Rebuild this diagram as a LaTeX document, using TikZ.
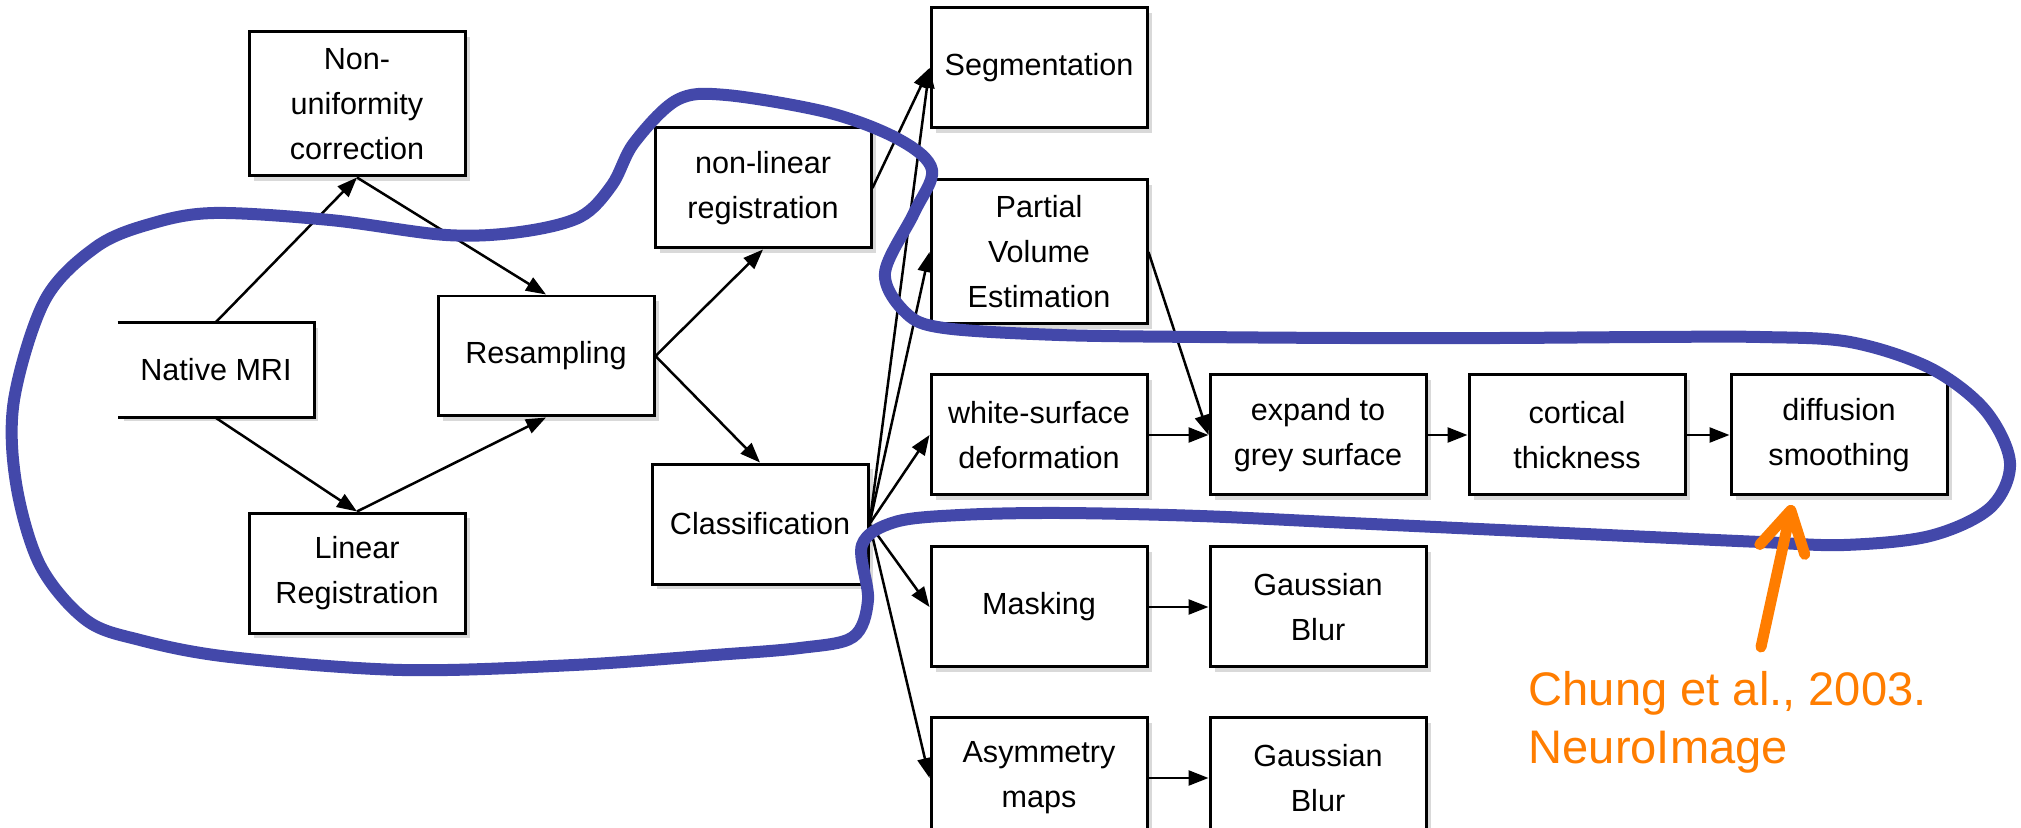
\documentclass[tikz,border=0pt]{standalone}
\usepackage{fontspec}
\setmainfont{Liberation Sans}
\usetikzlibrary{arrows.meta,positioning,shadows}
\definecolor{loopblue}{RGB}{67,72,170}
\definecolor{citeorange}{RGB}{255,125,0}

\begin{document}
\begin{tikzpicture}[x=0.1mm, y=-0.1mm,
	box/.style={draw, fill=white, line width=0.3mm, align=center, inner sep=0pt,
		minimum width=21.6mm, minimum height=12mm,
		font=\fontsize{8.7}{12.8}\selectfont,
		drop shadow={opacity=0.3, shadow xshift=0.5mm, shadow yshift=-0.5mm}},
	tall/.style={box, minimum height=14.4mm},
	arr/.style={-{Triangle[length=2mm, width=1.5mm]}, line width=0.25mm}]
	\useasboundingbox (0,0) rectangle (2021,828);
	% left part of the pipeline
	\node[box, draw=none, minimum width=19.4mm, minimum height=9.3mm] (native) at (216,370) {Native MRI};
	\draw[line width=0.3mm] (native.north west) -- (native.north east) -- (native.south east) -- (native.south west);
	\node[tall] (nonunif) at (357,104) {Non-\\uniformity\\correction};
	\node[box] (linreg) at (357,573) {Linear\\Registration};
	\node[box] (resamp) at (546,356) {Resampling};
	\node[box] (nonlin) at (763,188) {non-linear\\registration};
	\node[box] (classif) at (760,524) {Classification};
	% right column
	\node[box] (segm) at (1039,68) {Segmentation};
	\node[tall, below=4.9mm of segm] (pve) {Partial\\Volume\\Estimation};
	\node[box, below=4.8mm of pve] (white) {white-surface\\deformation};
	\node[box, right=6mm of white] (expand) {expand to\\grey surface};
	\node[box, right=4mm of expand] (cortical) {cortical\\thickness};
	\node[box, right=4.3mm of cortical] (diffusion) {diffusion\\smoothing};
	\node[box, below=4.9mm of white] (masking) {Masking};
	\node[box, right=6mm of masking] (gaussa) {Gaussian\\Blur};
	\node[box, below=4.8mm of masking] (asym) {Asymmetry\\maps};
	\node[box, right=6mm of asym] (gaussb) {Gaussian\\Blur};
	% connectors
	\draw[arr] (native.north) -- (nonunif.south);
	\draw[arr] (nonunif.south) -- (resamp.north);
	\draw[arr] (native.south) -- (linreg.north);
	\draw[arr] (linreg.north) -- (resamp.south);
	\draw[arr] (resamp.east) -- (nonlin.south);
	\draw[arr] (resamp.east) -- (classif.north);
	\draw[arr] (nonlin.east) -- (segm.west);
	\foreach \target in {segm,pve,white,masking,asym}
		\draw[arr] (classif.east) -- (\target.west);
	\draw[arr] (pve.east) -- (expand.west);
	\draw[arr] (white) -- (expand);
	\draw[arr] (expand) -- (cortical);
	\draw[arr] (cortical) -- (diffusion);
	\draw[arr] (masking) -- (gaussa);
	\draw[arr] (asym) -- (gaussb);
	% hand-drawn loop
	\draw[loopblue, line width=1.2mm] plot[smooth cycle, tension=0.55] coordinates {
		(96,247) (150,224) (214,213) (330,220) (446,235) (520,232) (580,217) (612,185)
		(634,143) (677,100) (726,95) (830,113) (900,140) (932,170) (914,213) (885,273)
		(906,313) (944,328) (1059,335) (1200,337) (1350,338) (1500,338) (1650,337)
		(1760,337) (1850,342) (1930,368) (1985,410) (2010,463) (1990,508) (1930,536)
		(1844,545) (1761,542) (1650,537) (1500,530) (1350,523) (1200,516) (1060,513)
		(960,515) (895,522) (862,545) (868,600) (853,637) (800,648) (715,655) (574,665)
		(402,670) (230,657) (140,640) (86,620) (40,565) (16,483) (14,400) (45,300)};
	% citation
	\coordinate (citetip) at (1792,505);
	\coordinate (citetail) at (1761,647);
	\draw[citeorange, line width=1.1mm, line cap=round, -{Straight Barb[length=4mm, width=4.6mm, round]}] (citetail) -- (citetip);
	\node[citeorange, anchor=north west, inner sep=0pt, align=left, font=\fontsize{13.4}{16.5}\selectfont] (cite) at (1528,671) {Chung et al., 2003.\\NeuroImage};
\end{tikzpicture}
\end{document}
